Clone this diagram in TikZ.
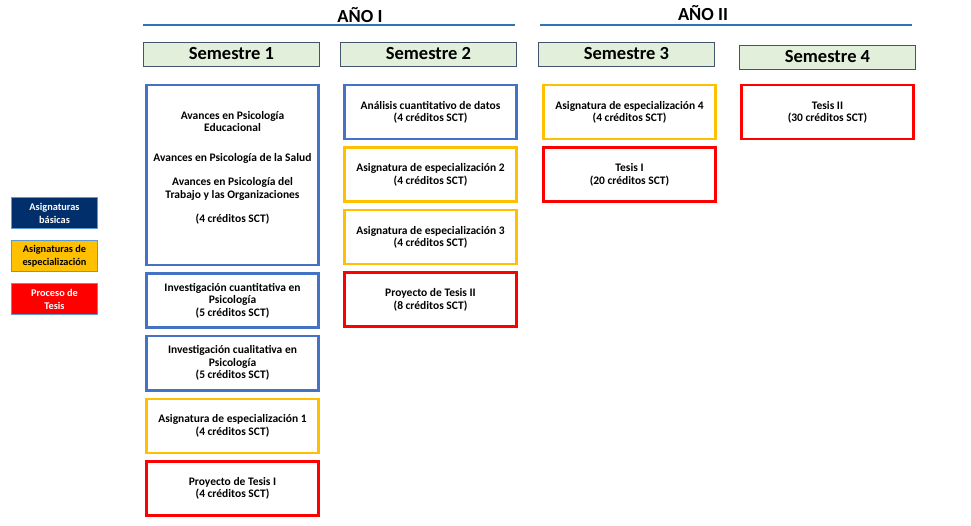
\documentclass[tikz,border=0pt]{standalone}
\usepackage{fontspec}
\setmainfont{Carlito}
\usetikzlibrary{positioning}
\definecolor{basicBlue}{HTML}{4472C4}
\definecolor{specYellow}{HTML}{FFC000}
\definecolor{thesisRed}{HTML}{FF0000}
\definecolor{navyFill}{HTML}{002F6C}
\definecolor{headGreen}{HTML}{E2EFDA}
\definecolor{headBorder}{HTML}{44546A}
\definecolor{keyBorder}{HTML}{5B9BD5}
\definecolor{ruleBlue}{HTML}{2E75B6}
\tikzset{course/.style={rectangle,draw,line width=2.5pt,fill=white,
		                 minimum width=172pt,minimum height=54pt,inner sep=2pt,
		                 align=center,font=\bfseries\fontsize{11.5}{12.5}\selectfont},
		basic/.style={course,draw=basicBlue},
		spec/.style={course,draw=specYellow},
		thesis/.style={course,draw=thesisRed},
		semHead/.style={rectangle,draw=headBorder,line width=0.9pt,fill=headGreen,
		                minimum width=176pt,minimum height=24pt,inner sep=0pt,
		                font=\bfseries\fontsize{18.5}{20}\selectfont},
		yearTitle/.style={font=\bfseries\fontsize{18.5}{20}\selectfont},
		yearRule/.style={draw=ruleBlue,line width=2.2pt},
		key/.style={rectangle,draw=keyBorder,line width=1pt,minimum width=86pt,
		            minimum height=31pt,inner sep=1pt,align=center,
		            font=\bfseries\fontsize{10.3}{12.9}\selectfont},
		node distance=6pt}

\begin{document}
\begin{tikzpicture}
				\useasboundingbox (0pt,0pt) rectangle (971pt,525pt);
				% years
				\node [yearTitle] (y1) at (360pt,510pt) {AÑO I};
				\node [yearTitle] (y2) at (703pt,512pt) {AÑO II};
				\coordinate (r1a) at (143pt,500pt);
				\coordinate (r1b) at (515pt,500pt);
				\coordinate (r2a) at (540pt,500pt);
				\coordinate (r2b) at (912pt,500pt);
				\draw[yearRule] (r1a) -- (r1b);
				\draw[yearRule] (r2a) -- (r2b);
				% semesters
				\node [semHead] (s1) at (231.5pt,471pt) {Semestre 1};
				\node [semHead] (s2) at (428.5pt,471pt) {Semestre 2};
				\node [semHead] (s3) at (626.5pt,471pt) {Semestre 3};
				\node [semHead] (s4) at (827.5pt,468pt) {Semestre 4};
				% semestre 1
				\node [basic, minimum height=180pt, anchor=north] (a1) at (232.5pt,441pt)
					{Avances en Psicología\\Educacional\\[17pt]Avances en Psicología de la Salud\\[12pt]Avances en Psicología del\\Trabajo y las Organizaciones\\[12pt](4 créditos SCT)\\[4pt] \mbox{}};
				\node [basic] (a2) [below=of a1] {Investigación cuantitativa en\\Psicología\\(5 créditos SCT)};
				\node [basic] (a3) [below=of a2] {Investigación cualitativa en\\Psicología\\(5 créditos SCT)};
				\node [spec] (a4) [below=of a3] {Asignatura de especialización 1\\(4 créditos SCT)};
				\node [thesis] (a5) [below=of a4] {Proyecto de Tesis I\\(4 créditos SCT)};
				% semestre 2
				\node [basic, anchor=north] (b1) at (430.5pt,441pt) {Análisis cuantitativo de datos\\(4 créditos SCT)};
				\node [spec] (b2) [below=of b1] {Asignatura de especialización 2\\(4 créditos SCT)};
				\node [spec] (b3) [below=of b2] {Asignatura de especialización 3\\(4 créditos SCT)};
				\node [thesis] (b4) [below=of b3] {Proyecto de Tesis II\\(8 créditos SCT)};
				% semestre 3
				\node [spec, anchor=north] (c1) at (629.5pt,441pt) {Asignatura de especialización 4\\(4 créditos SCT)};
				\node [thesis] (c2) [below=of c1] {Tesis I\\(20 créditos SCT)};
				% semestre 4
				\node [thesis, anchor=north] (d1) at (827.5pt,441pt) {Tesis II\\(30 créditos SCT)};
				% legend
				\node [key, fill=navyFill, text=white] (k1) at (54.5pt,311.5pt) {Asignaturas\\básicas};
				\node [key, fill=specYellow] (k2) [below=11pt of k1] {Asignaturas de\\especialización};
				\node [key, fill=thesisRed, text=white] (k3) [below=11pt of k2] {Proceso de\\Tesis};
			\end{tikzpicture}
\end{document}
